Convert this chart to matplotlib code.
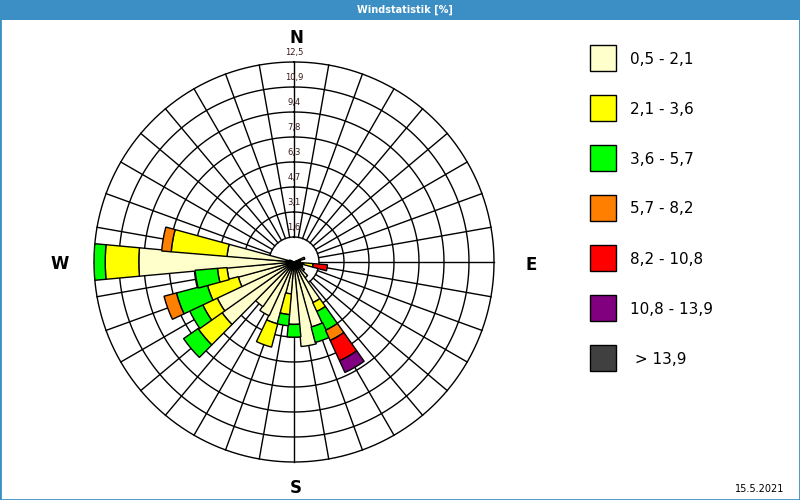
import numpy as np
import matplotlib
matplotlib.use('Agg')
import matplotlib.pyplot as plt
from matplotlib.patches import Rectangle

# wind directions (deg, clockwise from north), 10 degree sectors
directions = np.arange(0, 360, 10)

# frequency [%] per direction and speed class
#            0    10   20   30   40   50   60   70    80   90   100  110  120  130  140  150  160  170  180  190  200  210  220  230  240  250  260  270  280  290  300  310  320  330  340  350
cls_05_21 = [0,   0,   0,   0,   0,   0,   0,   0.35, 0.3, 0.4, 0.6, 0.5, 0.6, 0.8, 1.2, 2.8, 4.2, 5.3, 3.9, 2.0, 4.0, 3.7, 3.4, 5.5, 5.3, 3.6, 4.2, 9.7, 4.2, 0.3, 0,   0,   0,   0,   0,   0]
cls_21_36 = [0,   0,   0,   0,   0,   0,   0,   0,    0,   0,   0.6, 0,   0,   0,   0,   0.6, 0,   0,   0,   1.3, 1.5, 0,   0,   1.8, 1.0, 2.0, 0.6, 2.1, 3.5, 0,   0,   0,   0,   0,   0,   0]
cls_36_57 = [0,   0,   0,   0,   0,   0,   0,   0,    0,   0,   0,   0,   0,   0,   0,   1.3, 1.0, 0,   0.8, 0.7, 0,   0,   0,   1.1, 0.9, 2.0, 1.4, 0.7, 0,   0,   0,   0,   0,   0,   0,   0]
cls_57_82 = [0,   0,   0,   0,   0,   0,   0,   0.35, 0,   0,   0,   0,   0,   0,   0,   0.7, 0,   0,   0,   0,   0,   0,   0,   0,   0,   0.8, 0,   0,   0.6, 0,   0,   0,   0,   0,   0,   0]
cls_82_108 = [0,  0,   0,   0,   0,   0,   0,   0,    0,   0,   0.9, 0,   0,   0,   0,   1.4, 0,   0,   0,   0,   0,   0,   0,   0,   0,   0,   0,   0,   0,   0,   0,   0,   0,   0,   0,   0]
cls_108_139 = [0, 0,   0,   0,   0,   0,   0,   0,    0,   0,   0,   0,   0,   0,   0,   0.8, 0,   0,   0,   0,   0,   0,   0,   0,   0,   0,   0,   0,   0,   0,   0,   0,   0,   0,   0,   0]
cls_139 = [0] * 36

classes = [cls_05_21, cls_21_36, cls_36_57, cls_57_82, cls_82_108, cls_108_139, cls_139]
class_labels = ['0,5 - 2,1', '2,1 - 3,6', '3,6 - 5,7', '5,7 - 8,2',
                '8,2 - 10,8', '10,8 - 13,9', ' > 13,9']
class_colors = ['#ffffcc', '#ffff00', '#00ff00', '#ff8000',
                '#ff0000', '#800080', '#404040']

r_max = 12.5
ring_labels = ['1,6', '3,1', '4,7', '6,3', '7,8', '9,4', '10,9', '12,5']

W, H = 800, 500
fig = plt.figure(figsize=(8, 5), dpi=100)
fig.patch.set_facecolor('white')


def fx(x):
    return x / W


def fy(y):
    return 1 - y / H


cx, cy, R = 294, 262, 200
ax = fig.add_axes([fx(cx - R), fy(cy + R), 2 * R / W, 2 * R / H], projection='polar')
ax.set_theta_zero_location('N')
ax.set_theta_direction(-1)
ax.set_ylim(0, r_max)
ax.set_axis_off()

# grid: rings and spokes
rings = np.arange(1, len(ring_labels) + 1) * r_max / len(ring_labels)
t = np.linspace(0, 2 * np.pi, 721)
for r in rings:
    ax.plot(t, np.full_like(t, r), color='black', lw=1.0, clip_on=False, zorder=1)
for d in directions:
    a = np.deg2rad(d)
    ax.plot([a, a], [rings[0], rings[-1]], color='black', lw=1.0, clip_on=False, zorder=1)

for r, lab in zip(rings, ring_labels):
    ax.text(0, r + 0.6, lab, ha='center', va='center', fontsize=6,
            color='#3a1a1a', zorder=2, clip_on=False)

# stacked wedges
theta = np.deg2rad(directions)
bottom = np.zeros(len(directions))
for vals, col in zip(classes, class_colors):
    vals = np.array(vals, dtype=float)
    m = vals > 0
    if m.any():
        ax.bar(theta[m], vals[m], width=np.deg2rad(10.5), bottom=bottom[m],
               color=col, edgecolor='black', linewidth=1.0, zorder=3)
    bottom += vals

# compass letters
for lab, (px, py) in zip(['N', 'E', 'S', 'W'],
                         [(296, 38), (531, 265), (296, 488), (60, 264)]):
    fig.text(fx(px), fy(py), lab, ha='center', va='center',
             fontsize=12, fontweight='bold')

# legend
for i, (lab, col) in enumerate(zip(class_labels, class_colors)):
    y0 = 45 + 50 * i
    fig.add_artist(Rectangle((fx(590), fy(y0 + 26)), 26 / W, 26 / H,
                             transform=fig.transFigure, facecolor=col,
                             edgecolor='black', lw=1))
    fig.text(fx(630), fy(y0 + 14), lab, ha='left', va='center', fontsize=11)

# title bar and frame
blue = '#3b8fc4'
fig.add_artist(Rectangle((0, fy(20)), 1, 20 / H, transform=fig.transFigure,
                         facecolor=blue, edgecolor='none'))
fig.text(fx(405), fy(10), 'Windstatistik [%]', ha='center', va='center',
         fontsize=7, color='white', fontweight='bold')
fig.add_artist(Rectangle((0, 0), 1, 1, transform=fig.transFigure,
                         fill=False, edgecolor=blue, lw=2))

fig.text(fx(784), fy(489), '15.5.2021', ha='right', va='center', fontsize=7)

fig.savefig('out.png', dpi=100)
